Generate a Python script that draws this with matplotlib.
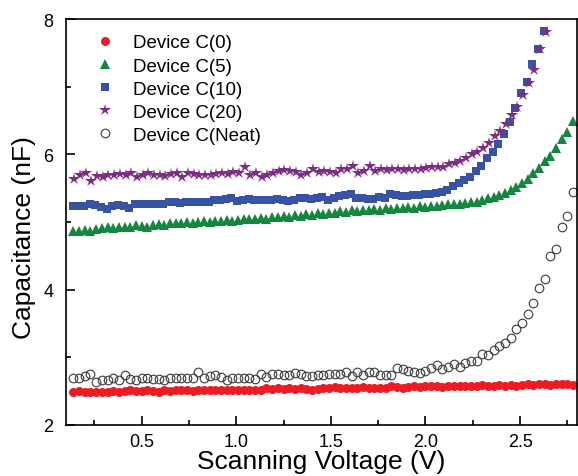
#!/usr/bin/env python
"""
Capacitance vs scanning voltage for the C devices
"""

import numpy as np
import matplotlib
matplotlib.use('Agg')
import matplotlib.pyplot as plt
from matplotlib.ticker import MultipleLocator

plt.rcParams['font.family'] = ['Liberation Sans', 'DejaVu Sans']

# voltage sweeps (V)
v_dense = np.round(np.arange(0.14, 2.781, 0.03), 3)    # C(0), C(5), Neat
v_c10 = np.round(np.arange(0.135, 2.626, 0.03), 3)
v_c20 = np.round(np.arange(0.145, 2.636, 0.03), 3)

# capacitance (nF)
c0 = [2.48, 2.50, 2.49, 2.48, 2.49, 2.48, 2.49, 2.50, 2.49, 2.50, 2.51, 2.50, 2.50,
      2.51, 2.50, 2.49, 2.51, 2.50, 2.51, 2.52, 2.51, 2.50, 2.51, 2.52, 2.51, 2.52, 2.51, 2.52, 2.51,
      2.52, 2.51, 2.52, 2.51, 2.52, 2.54, 2.53, 2.54, 2.53, 2.54, 2.53, 2.54, 2.53, 2.52, 2.53, 2.54,
      2.55, 2.56, 2.54, 2.55, 2.54, 2.55, 2.56, 2.55, 2.54, 2.55, 2.54, 2.57, 2.56, 2.55, 2.56, 2.57,
      2.56, 2.57, 2.58, 2.57, 2.56, 2.57, 2.58, 2.57, 2.58, 2.57, 2.58, 2.59, 2.58, 2.58, 2.59, 2.58,
      2.59, 2.58, 2.59, 2.60, 2.59, 2.61, 2.60, 2.59, 2.60, 2.61, 2.60, 2.59]

c5 = [4.86, 4.87, 4.88, 4.87, 4.89, 4.91, 4.92, 4.91, 4.93, 4.92, 4.93, 4.95, 4.94, 4.92,
      4.95, 4.97, 4.96, 4.98, 4.99, 4.98, 5.00, 4.99, 5.00, 5.01, 5.00, 5.01, 5.02, 5.03, 5.02,
      5.03, 5.04, 5.05, 5.04, 5.06, 5.05, 5.08, 5.07, 5.09, 5.08, 5.10, 5.09, 5.12, 5.11, 5.13,
      5.12, 5.14, 5.13, 5.16, 5.15, 5.17, 5.16, 5.18, 5.17, 5.19, 5.18, 5.20, 5.19, 5.21, 5.20,
      5.22, 5.21, 5.23, 5.22, 5.24, 5.23, 5.25, 5.26, 5.27, 5.26, 5.28, 5.29, 5.30, 5.32, 5.35,
      5.37, 5.40, 5.43, 5.47, 5.52, 5.57, 5.63, 5.72, 5.80, 5.90, 5.98, 6.10, 6.22, 6.33, 6.50]

c10 = [5.24, 5.24, 5.23, 5.27, 5.25, 5.22, 5.19, 5.24, 5.25, 5.24, 5.21, 5.26, 5.27, 5.26,
       5.27, 5.26, 5.27, 5.30, 5.29, 5.28, 5.29, 5.30, 5.29, 5.29, 5.30, 5.33, 5.32, 5.34, 5.35,
       5.31, 5.32, 5.34, 5.33, 5.32, 5.33, 5.32, 5.34, 5.33, 5.31, 5.33, 5.36, 5.35, 5.34, 5.35,
       5.37, 5.33, 5.35, 5.38, 5.40, 5.41, 5.36, 5.35, 5.34, 5.34, 5.37, 5.36, 5.42, 5.40, 5.39,
       5.39, 5.40, 5.40, 5.41, 5.42, 5.43, 5.44, 5.48, 5.53, 5.57, 5.62, 5.66, 5.75, 5.83, 5.95,
       6.04, 6.15, 6.30, 6.48, 6.69, 6.90, 7.07, 7.34, 7.56, 7.82]

c20 = [5.63, 5.70, 5.72, 5.60, 5.68, 5.66, 5.70, 5.69, 5.71, 5.70, 5.72, 5.67, 5.70, 5.72,
       5.69, 5.70, 5.68, 5.71, 5.73, 5.66, 5.72, 5.71, 5.69, 5.69, 5.70, 5.71, 5.72, 5.71, 5.74,
       5.72, 5.81, 5.70, 5.73, 5.67, 5.70, 5.72, 5.76, 5.77, 5.75, 5.74, 5.70, 5.73, 5.79, 5.74,
       5.76, 5.74, 5.72, 5.78, 5.79, 5.83, 5.72, 5.76, 5.83, 5.76, 5.78, 5.77, 5.78, 5.79, 5.77,
       5.78, 5.79, 5.79, 5.80, 5.82, 5.82, 5.82, 5.85, 5.87, 5.90, 5.94, 6.00, 6.04, 6.10, 6.17,
       6.27, 6.35, 6.45, 6.58, 6.70, 6.88, 7.05, 7.25, 7.55, 7.81]

c_neat = [2.69, 2.69, 2.73, 2.75, 2.63, 2.67, 2.66, 2.69, 2.67, 2.74, 2.68, 2.67, 2.69, 2.69,
          2.68, 2.68, 2.67, 2.70, 2.70, 2.69, 2.69, 2.69, 2.78, 2.69, 2.73, 2.74, 2.71, 2.67, 2.70,
          2.70, 2.70, 2.69, 2.68, 2.75, 2.71, 2.75, 2.75, 2.74, 2.74, 2.77, 2.75, 2.73, 2.72, 2.74,
          2.74, 2.75, 2.76, 2.76, 2.79, 2.73, 2.78, 2.74, 2.79, 2.78, 2.74, 2.74, 2.74, 2.84, 2.82,
          2.80, 2.79, 2.77, 2.80, 2.84, 2.88, 2.83, 2.85, 2.90, 2.85, 2.92, 2.95, 2.95, 3.05, 3.03,
          3.11, 3.16, 3.21, 3.28, 3.42, 3.50, 3.64, 3.80, 4.02, 4.16, 4.50, 4.60, 4.92, 5.09, 5.44]

fig = plt.figure(figsize=(5.78, 4.77), dpi=100)
ax = fig.add_axes([0.114, 0.107, 0.884, 0.851])

ax.plot(v_dense, c0, 'o', color='#ED1C24', markersize=6.5, markeredgewidth=0, label='Device C(0)')
ax.plot(v_dense, c5, '^', color='#13873D', markersize=7, markeredgewidth=0, label='Device C(5)')
ax.plot(v_c10, c10, 's', color='#3753A4', markersize=5.8, markeredgewidth=0, label='Device C(10)')
ax.plot(v_c20, c20, '*', color='#7E2D84', markersize=9, markeredgewidth=0, label='Device C(20)')
ax.plot(v_dense, c_neat, 'o', markerfacecolor='none', markeredgecolor='#3a3a3a',
        markersize=6.2, markeredgewidth=0.8, label='Device C(Neat)')

ax.set_xlim(0.1, 2.8)
ax.set_ylim(2, 8)
ax.xaxis.set_minor_locator(MultipleLocator(0.25))
ax.yaxis.set_major_locator(MultipleLocator(2))
ax.yaxis.set_minor_locator(MultipleLocator(1))
ax.set_xticks([0.5, 1.0, 1.5, 2.0, 2.5])
ax.set_xticklabels(['0.5', '1.0', '1.5', '2.0', '2.5'])
ax.tick_params(which='both', direction='in', top=False, right=False, labelsize=13, width=1.2)
ax.tick_params(which='major', length=6.5)
ax.tick_params(which='minor', length=3.5)
ax.tick_params(axis='x', pad=6)
ax.tick_params(axis='y', pad=9)
for s in ax.spines.values():
    s.set_linewidth(1.2)

ax.set_xlabel('Scanning Voltage (V)', fontsize=19, labelpad=-1)
ax.set_ylabel('Capacitance (nF)', fontsize=19)
ax.yaxis.set_label_coords(-0.058, 0.463)

ax.legend(loc='upper left', bbox_to_anchor=(0.036, 0.99), frameon=False, fontsize=13.5,
          handlelength=1.0, handletextpad=1.0, labelspacing=0.32, borderaxespad=0.2)

fig.savefig('out.png', dpi=100)
